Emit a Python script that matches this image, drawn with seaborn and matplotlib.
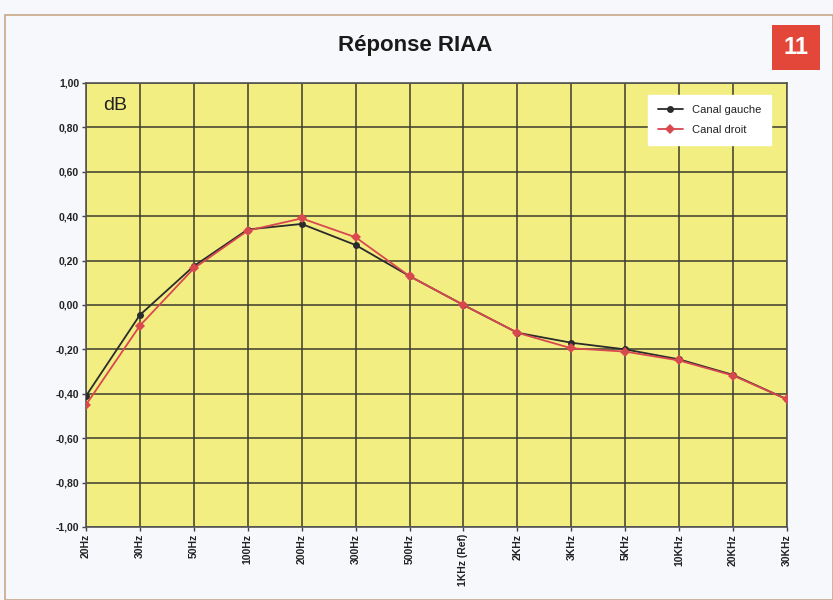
import matplotlib
matplotlib.use("Agg")
import matplotlib.pyplot as plt
from matplotlib.patches import Rectangle
import numpy as np
import pandas as pd
import seaborn as sns

# Test frequencies (equally spaced categories)
freqs = ["20Hz", "30Hz", "50Hz", "100Hz", "200Hz", "300Hz", "500Hz",
         "1KHz (Ref)", "2KHz", "3KHz", "5KHz", "10KHz", "20KHz", "30KHz"]

# Deviation from the RIAA curve, in dB
gauche = [-0.41, -0.045, 0.175, 0.34, 0.365, 0.27, 0.13,
          0.0, -0.125, -0.17, -0.20, -0.245, -0.315, -0.425]
droit = [-0.45, -0.093, 0.165, 0.335, 0.39, 0.305, 0.13,
         0.0, -0.125, -0.195, -0.21, -0.25, -0.318, -0.425]

y_ticks = [-1.0, -0.8, -0.6, -0.4, -0.2, 0.0, 0.2, 0.4, 0.6, 0.8, 1.0]
y_labels = ["-1,00", "-0,80", "-0,60", "-0,40", "-0,20", "0,00",
            "0,20", "0,40", "0,60", "0,80", "1,00"]

df = pd.DataFrame({
    "pos": list(range(len(freqs))) * 2,
    "dB": gauche + droit,
    "canal": ["Canal gauche"] * len(freqs) + ["Canal droit"] * len(freqs),
})

sns.set_theme(style="white")
plt.rcParams["font.family"] = ["Liberation Sans", "DejaVu Sans"]

fig = plt.figure(figsize=(8.33, 6.0), dpi=100)
fig.patch.set_facecolor("#f7f8fb")
ax = fig.add_axes([0.1032, 0.1217, 0.8416, 0.74])
ax.set_facecolor("#f2ee82")

palette = {"Canal gauche": "#2b2b2b", "Canal droit": "#d9474f"}
markers = {"Canal gauche": "o", "Canal droit": "D"}
sns.lineplot(data=df, x="pos", y="dB", hue="canal", style="canal",
             palette=palette, markers=markers, dashes=False, sort=False,
             linewidth=1.3, markersize=5, markeredgewidth=0, ax=ax,
             zorder=3)

ax.set_xlim(0, len(freqs) - 1)
ax.set_ylim(-1.0, 1.0)
ax.set_xticks(range(len(freqs)))
ax.set_xticklabels(freqs, rotation=90, fontsize=7.5, fontweight="bold",
                   color="#222222")
ax.set_yticks(y_ticks)
ax.set_yticklabels(y_labels, fontsize=7.5, fontweight="bold", color="#222222")
ax.tick_params(axis="both", length=3, width=1, color="#444444", pad=2,
               direction="out", bottom=True, left=True)
ax.set_xlabel("")
ax.set_ylabel("")
ax.grid(True, color="#3c3c2c", linewidth=1.1)
ax.set_axisbelow(True)
for side in ["left", "bottom"]:
    ax.spines[side].set_color("#555555")
    ax.spines[side].set_linewidth(1.2)
for side in ["top", "right"]:
    ax.spines[side].set_color("#555550")
    ax.spines[side].set_linewidth(1.2)

ax.text(0.024, 0.968, "dB", transform=ax.transAxes, fontsize=14,
        ha="left", va="top", color="#222222")

leg = ax.legend(loc="upper right", bbox_to_anchor=(0.985, 0.985),
                frameon=True, fontsize=8, handlelength=2.2,
                borderpad=0.9, labelspacing=0.9)
leg.get_frame().set_facecolor("white")
leg.get_frame().set_edgecolor("white")
leg.get_frame().set_alpha(1)
leg.get_frame().set_boxstyle("square", pad=0)
for t in leg.get_texts():
    t.set_color("#222222")

fig.text(0.498, 0.925, "Réponse RIAA", ha="center", va="center",
         fontsize=16, fontweight="bold", color="#1a1a1a")

# Figure number badge
fig.patches.append(Rectangle((772 / 833, 1 - 70 / 600), 48 / 833, 45 / 600,
                             transform=fig.transFigure, facecolor="#e2473a",
                             edgecolor="none"))
fig.text(796 / 833, 1 - 47.5 / 600, "11", ha="center", va="center",
         fontsize=17, fontweight="bold", color="white")

# Outer frame of the figure
fig.patches.append(Rectangle((5 / 833, 0.0), 828 / 833, 1 - 15 / 600,
                             transform=fig.transFigure, facecolor="none",
                             edgecolor="#c9a88a", linewidth=1.2))

fig.savefig("out.png", dpi=100, facecolor=fig.get_facecolor())
